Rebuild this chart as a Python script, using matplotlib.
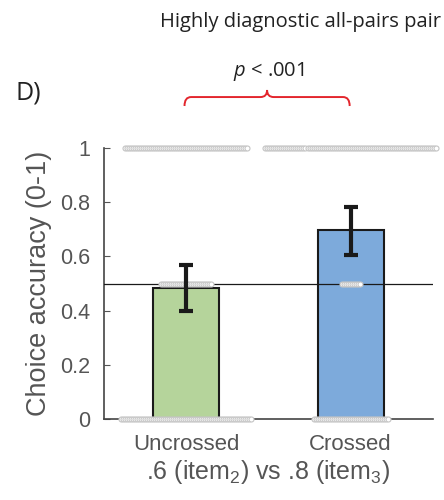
import numpy as np
import matplotlib.pyplot as plt
from matplotlib.path import Path
from matplotlib.patches import PathPatch

plt.rcParams['font.family'] = ['Liberation Sans', 'DejaVu Sans']
plt.rcParams['mathtext.fontset'] = 'custom'
plt.rcParams['mathtext.rm'] = 'Liberation Sans'
plt.rcParams['mathtext.it'] = 'Open Sans:italic'

# ---- data ----
conditions = ['Uncrossed', 'Crossed']
accuracy = [0.483, 0.697]
err_low = [0.399, 0.605]
err_high = [0.568, 0.782]
bar_colors = ['#b5d49b', '#7daadb']

# participants per accuracy level (0, 0.5, 1) for each condition
levels = [0.0, 0.5, 1.0]
counts_uncrossed = [66, 26, 62]
counts_crossed = [38, 10, 86]
counts = [counts_uncrossed, counts_crossed]

axis_col = '#555555'
head_col = '#222222'

fig = plt.figure(figsize=(4.44, 5), dpi=100)
ax = fig.add_axes([0.234, 0.162, 0.741, 0.542])

x = np.arange(1, len(conditions) + 1)
ax.bar(x, accuracy, width=0.4, color=bar_colors, edgecolor='#1a1a1a', linewidth=1.5, zorder=2)

ax.axhline(0.5, color='#1a1a1a', lw=0.9, zorder=3)

# individual participants, spread horizontally around each bar
step = 0.0122
for xi, cnt in zip(x, counts):
    for lev, n in zip(levels, cnt):
        xs = xi + (np.arange(n) - (n - 1) / 2) * step
        ax.plot(xs, np.full(n, lev), 'o', ms=3.6, mfc='white', mec='#c4c4c4',
                mew=0.8, clip_on=False, zorder=4)

yerr = [np.array(accuracy) - np.array(err_low), np.array(err_high) - np.array(accuracy)]
ax.errorbar(x, accuracy, yerr=yerr, fmt='none', ecolor='#1a1a1a', elinewidth=3,
            capsize=4.7, capthick=3, zorder=5)

ax.set_xlim(0.5, 2.5)
ax.set_ylim(0, 1)
ax.set_xticks(x)
ax.set_xticklabels(conditions)
ax.set_yticks([0, 0.2, 0.4, 0.6, 0.8, 1])
ax.set_yticklabels(['0', '0.2', '0.4', '0.6', '0.8', '1'])
ax.tick_params(axis='y', direction='in', length=4, pad=10, labelsize=15.5, colors=axis_col)
ax.tick_params(axis='x', length=0, pad=11, labelsize=16, colors=axis_col)
ax.spines['top'].set_visible(False)
ax.spines['right'].set_visible(False)
for s in ['left', 'bottom']:
    ax.spines[s].set_color('#444444')
    ax.spines[s].set_linewidth(1.2)

ax.set_ylabel('Choice accuracy (0-1)', fontsize=19.5, color=axis_col, labelpad=6)
ax.set_xlabel('.6 (item$_\\mathrm{2}$) vs .8 (item$_\\mathrm{3}$)', fontsize=18,
              color=axis_col, labelpad=2)

# significance brace
bx0, bx1 = 0.99, 1.994
bm = (bx0 + bx1) / 2
yb, yf, yp = 1.155, 1.188, 1.214
d = 0.04
verts = [(bx0, yb), (bx0, yf), (bx0 + d, yf),
         (bm - d, yf), (bm, yf), (bm, yp),
         (bm, yf), (bm + d, yf),
         (bx1 - d, yf), (bx1, yf), (bx1, yb)]
codes = [Path.MOVETO, Path.CURVE3, Path.CURVE3,
         Path.LINETO, Path.CURVE3, Path.CURVE3,
         Path.CURVE3, Path.CURVE3,
         Path.LINETO, Path.CURVE3, Path.CURVE3]
ax.add_patch(PathPatch(Path(verts, codes), fill=False, edgecolor='#e3262d', lw=1.4,
                       clip_on=False))
ax.text(1.503, 1.282, '$p$ < .001', ha='center', va='center', fontsize=14.5,
        color=head_col, family='Open Sans')

fig.text(0.676, 0.955, 'Highly diagnostic all-pairs pair', ha='center', va='center',
         fontsize=14.5, color=head_col, family='Open Sans')
fig.text(0.034, 0.815, 'D)', ha='left', va='center', fontsize=18, color=head_col,
         family='Open Sans')

fig.savefig('out.png', dpi=100)
